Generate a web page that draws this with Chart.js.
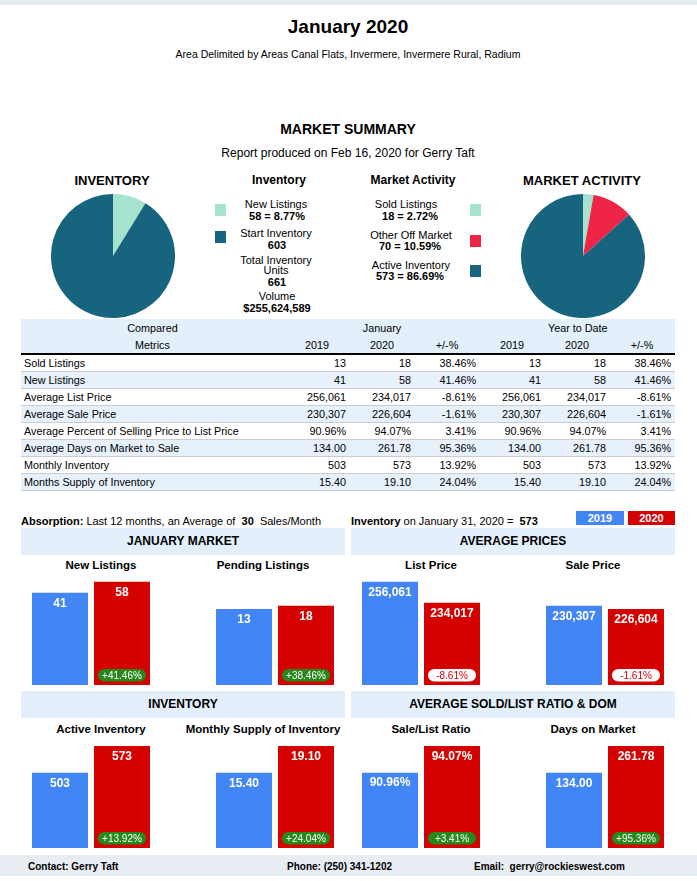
<!DOCTYPE html>
<html>
<head>
<meta charset="utf-8">
<script src="https://cdn.jsdelivr.net/npm/chart.js@4.4.1/dist/chart.umd.min.js"></script>
<style>
  body { margin: 0; background: #fff; font-family: "Liberation Sans", Arial, sans-serif; color: #000; }
  #page { position: relative; width: 697px; height: 881px; overflow: hidden; }
  .c { position: absolute; transform: translate(-50%, -50%); white-space: nowrap; }
  .l { position: absolute; transform: translateY(-50%); white-space: nowrap; }
  .box { position: absolute; }
  .sec { position: absolute; background: #e3effb; font-weight: bold; font-size: 12px; text-align: center; }
  canvas { position: absolute; }
  table { position: absolute; left: 21px; top: 319px; width: 654px; border-collapse: collapse; table-layout: fixed; font-size: 10.8px; }
  td { height: 17px; padding: 0 4px 0 3px; text-align: right; white-space: nowrap; line-height: 16px; }
  td:first-child { text-align: left; }
  tr.h td { background: #e3effb; text-align: center; }
  tr.h2 td { border-bottom: 2px solid #000; }
  tr.d td { height: 16px; line-height: 15px; border-bottom: 1px solid #c9cdd2; }
  tr.d:nth-child(even) td { background: #e6f1fc; }
</style>
</head>
<body>
<div id="page">
  <div class="box" style="left:0;top:0;width:697px;height:5px;background:#e9eef5"></div>
  <div class="c" style="left:348px;top:27px;font-size:19px;font-weight:bold">January 2020</div>
  <div class="c" style="left:348px;top:54px;font-size:10.5px">Area Delimited by Areas Canal Flats, Invermere, Invermere Rural, Radium</div>
  <div class="c" style="left:348px;top:129px;font-size:14px;font-weight:bold">MARKET SUMMARY</div>
  <div class="c" style="left:348px;top:153px;font-size:12px">Report produced on Feb 16, 2020 for Gerry Taft</div>

  <div class="c" style="left:112px;top:180px;font-size:13px;font-weight:bold">INVENTORY</div>
  <div class="c" style="left:582px;top:180px;font-size:13px;font-weight:bold">MARKET ACTIVITY</div>
  <div class="c" style="left:279px;top:180px;font-size:12px;font-weight:bold">Inventory</div>
  <div class="c" style="left:413px;top:180px;font-size:12px;font-weight:bold">Market Activity</div>

  <div class="box" style="left:215px;top:204px;width:11px;height:12px;background:#a6e3cf"></div>
  <div class="box" style="left:215px;top:231px;width:11px;height:12px;background:#17647f"></div>
  <div class="c" style="left:276px;top:204px;font-size:11px">New Listings</div>
  <div class="c" style="left:277px;top:216px;font-size:11px;font-weight:bold">58 = 8.77%</div>
  <div class="c" style="left:276px;top:233px;font-size:11px">Start Inventory</div>
  <div class="c" style="left:277px;top:245px;font-size:11px;font-weight:bold">603</div>
  <div class="c" style="left:276px;top:260px;font-size:11px">Total Inventory</div>
  <div class="c" style="left:276px;top:270px;font-size:11px">Units</div>
  <div class="c" style="left:277px;top:282px;font-size:11px;font-weight:bold">661</div>
  <div class="c" style="left:277px;top:296px;font-size:11px">Volume</div>
  <div class="c" style="left:277px;top:308px;font-size:11px;font-weight:bold">$255,624,589</div>

  <div class="c" style="left:406px;top:204px;font-size:11px">Sold Listings</div>
  <div class="c" style="left:410px;top:216px;font-size:11px;font-weight:bold">18 = 2.72%</div>
  <div class="c" style="left:411px;top:235px;font-size:11px">Other Off Market</div>
  <div class="c" style="left:410px;top:246px;font-size:11px;font-weight:bold">70 = 10.59%</div>
  <div class="c" style="left:411px;top:265px;font-size:11px">Active Inventory</div>
  <div class="c" style="left:410px;top:276px;font-size:11px;font-weight:bold">573 = 86.69%</div>
  <div class="box" style="left:470px;top:204px;width:11px;height:12px;background:#a6e3cf"></div>
  <div class="box" style="left:470px;top:235px;width:11px;height:12px;background:#ef2548"></div>
  <div class="box" style="left:470px;top:265px;width:11px;height:12px;background:#17647f"></div>

  <canvas id="pieInv" width="124" height="124" style="left:51px;top:194px"></canvas>
  <canvas id="pieAct" width="124" height="124" style="left:521px;top:194px"></canvas>

  <table id="tbl"></table>

  <div class="l" style="left:21px;top:521px;font-size:11px"><b>Absorption:</b> Last 12 months, an Average of&nbsp; <b>30</b>&nbsp; Sales/Month</div>
  <div class="l" style="left:351px;top:521px;font-size:11px"><b>Inventory</b> on January 31, 2020 =&nbsp; <b>573</b></div>
  <div class="box" style="left:576px;top:511px;width:48px;height:14px;background:#4285f4;color:#fff;font-size:11px;font-weight:bold;text-align:center;line-height:14px">2019</div>
  <div class="box" style="left:628px;top:511px;width:47px;height:14px;background:#d50000;color:#fff;font-size:11px;font-weight:bold;text-align:center;line-height:14px">2020</div>

  <div class="sec" style="left:21px;top:528px;width:324px;height:27px;line-height:27px">JANUARY MARKET</div>
  <div class="sec" style="left:351px;top:528px;width:324px;height:27px;line-height:27px">AVERAGE PRICES</div>
  <div class="sec" style="left:21px;top:691px;width:324px;height:27px;line-height:27px">INVENTORY</div>
  <div class="sec" style="left:351px;top:691px;width:324px;height:27px;line-height:27px">AVERAGE SOLD/LIST RATIO &amp; DOM</div>

  <div id="bars"></div>

  <div class="box" style="left:0;top:855px;width:697px;height:21px;background:#e8edf3"></div>
  <div class="l" style="left:28px;top:866px;font-size:10px;font-weight:bold">Contact: Gerry Taft</div>
  <div class="l" style="left:287px;top:866px;font-size:10px;font-weight:bold">Phone: (250) 341-1202</div>
  <div class="l" style="left:474px;top:866px;font-size:10px;font-weight:bold">Email:&nbsp; gerry@rockieswest.com</div>
</div>

<script>
// pie data
const invLabels = ['New Listings', 'Start Inventory'];
const invValues = [58, 603];
const actLabels = ['Sold Listings', 'Other Off Market', 'Active Inventory'];
const actValues = [18, 70, 573];

// table data
const metrics = ['Sold Listings', 'New Listings', 'Average List Price', 'Average Sale Price',
  'Average Percent of Selling Price to List Price', 'Average Days on Market to Sale',
  'Monthly Inventory', 'Months Supply of Inventory'];
const jan2019 = ['13', '41', '256,061', '230,307', '90.96%', '134.00', '503', '15.40'];
const jan2020 = ['18', '58', '234,017', '226,604', '94.07%', '261.78', '573', '19.10'];
const janChange = ['38.46%', '41.46%', '-8.61%', '-1.61%', '3.41%', '95.36%', '13.92%', '24.04%'];
const ytd2019 = ['13', '41', '256,061', '230,307', '90.96%', '134.00', '503', '15.40'];
const ytd2020 = ['18', '58', '234,017', '226,604', '94.07%', '261.78', '573', '19.10'];
const ytdChange = ['38.46%', '41.46%', '-8.61%', '-1.61%', '3.41%', '95.36%', '13.92%', '24.04%'];

// bar charts
const years = ['2019', '2020'];
const barTitles = ['New Listings', 'Pending Listings', 'List Price', 'Sale Price',
  'Active Inventory', 'Monthly Supply of Inventory', 'Sale/List Ratio', 'Days on Market'];
const values2019 = [41, 13, 256061, 230307, 503, 15.40, 90.96, 134.00];
const values2020 = [58, 18, 234017, 226604, 573, 19.10, 94.07, 261.78];
const changes = ['+41.46%', '+38.46%', '-8.61%', '-1.61%', '+13.92%', '+24.04%', '+3.41%', '+95.36%'];
const formats = ['int', 'int', 'int', 'int', 'int', 'dec', 'pct', 'dec'];

// value axis windows (the source charts do not start at zero)
const yMin = [-102, -102, 147700, 141300, 305, 4.96, 82.18, -226.5];
const yMax = [68.4, 64.5, 263100, 264750, 589, 19.94, 94.77, 290.8];

const BLUE = '#4285f4', RED = '#d50000', GREEN = '#27891b';
const MINT = '#a6e3cf', TEAL = '#17647f', PINK = '#ef2548';

// table
let html = '<colgroup><col style="width:264px">' + '<col style="width:65px">'.repeat(6) + '</colgroup>';
html += '<tr class="h"><td style="text-align:center">Compared</td><td></td><td>January</td><td></td><td></td><td>Year to Date</td><td></td></tr>';
html += '<tr class="h h2"><td style="text-align:center">Metrics</td><td>2019</td><td>2020</td><td>+/-%</td><td>2019</td><td>2020</td><td>+/-%</td></tr>';
metrics.forEach((m, i) => {
  html += '<tr class="d"><td>' + m + '</td><td>' + jan2019[i] + '</td><td>' + jan2020[i] + '</td><td>' + janChange[i] +
    '</td><td>' + ytd2019[i] + '</td><td>' + ytd2020[i] + '</td><td>' + ytdChange[i] + '</td></tr>';
});
document.getElementById('tbl').innerHTML = html;

// pies
function pie(id, labels, data, colors) {
  new Chart(document.getElementById(id), {
    type: 'pie',
    data: { labels: labels, datasets: [{ data: data, backgroundColor: colors, borderWidth: 0 }] },
    options: {
      responsive: false, animation: false, events: [],
      plugins: { legend: { display: false }, tooltip: { enabled: false } }
    }
  });
}
pie('pieInv', invLabels, invValues, [MINT, TEAL]);
pie('pieAct', actLabels, actValues, [MINT, PINK, TEAL]);

function fmt(v, f) {
  if (f === 'int') return v.toLocaleString('en-US');
  if (f === 'dec') return v.toFixed(2);
  return v.toFixed(2) + '%';
}

const barBadge = {
  id: 'barBadge',
  afterDatasetsDraw(chart, args, opts) {
    const ctx = chart.ctx;
    const meta = chart.getDatasetMeta(0);
    const ds = chart.data.datasets[0];
    ctx.save();
    ctx.textAlign = 'center';
    ctx.textBaseline = 'middle';
    ctx.fillStyle = '#fff';
    ctx.font = 'bold 12px "Liberation Sans", Arial, sans-serif';
    meta.data.forEach((bar, i) => {
      ctx.fillText(fmt(ds.data[i], opts.format), bar.x, bar.y + opts.offset);
    });
    const b = meta.data[1];
    const w = b.width - 8, h = 12.5;
    const x = b.x - w / 2, y = b.base - 3.5 - h;
    const neg = opts.change.charAt(0) === '-';
    ctx.beginPath();
    ctx.roundRect(x, y, w, h, h / 2);
    ctx.fillStyle = neg ? '#fff' : GREEN;
    ctx.fill();
    ctx.fillStyle = neg ? RED : '#fff';
    ctx.font = '10px "Liberation Sans", Arial, sans-serif';
    ctx.fillText(opts.change, b.x, y + h / 2 + 0.5);
    ctx.restore();
  }
};

const colX = [29, 213, 359, 543];
const titleX = [101, 263, 431, 593];
const rowTop = [575, 740];
const rowH = [110, 108];
const titleY = [565, 729];
const holder = document.getElementById('bars');

barTitles.forEach((t, i) => {
  const r = Math.floor(i / 4), c = i % 4;
  const title = document.createElement('div');
  title.className = 'c';
  title.style.cssText = 'left:' + titleX[c] + 'px;top:' + titleY[r] + 'px;font-size:11.5px;font-weight:bold';
  title.textContent = t;
  holder.appendChild(title);

  const cv = document.createElement('canvas');
  cv.width = 124; cv.height = rowH[r];
  cv.style.left = colX[c] + 'px';
  cv.style.top = rowTop[r] + 'px';
  holder.appendChild(cv);

  new Chart(cv, {
    type: 'bar',
    data: {
      labels: years,
      datasets: [{
        data: [values2019[i], values2020[i]],
        backgroundColor: [BLUE, RED],
        base: yMin[i],
        categoryPercentage: 1,
        barPercentage: 0.903
      }]
    },
    options: {
      responsive: false, animation: false, events: [],
      layout: { padding: 0 },
      plugins: {
        legend: { display: false },
        tooltip: { enabled: false },
        barBadge: { change: changes[i], format: formats[i], offset: r === 0 ? 11 : 10.5 }
      },
      scales: {
        x: { display: false },
        y: { display: false, min: yMin[i], max: yMax[i] }
      }
    },
    plugins: [barBadge]
  });
});
</script>
</body>
</html>
